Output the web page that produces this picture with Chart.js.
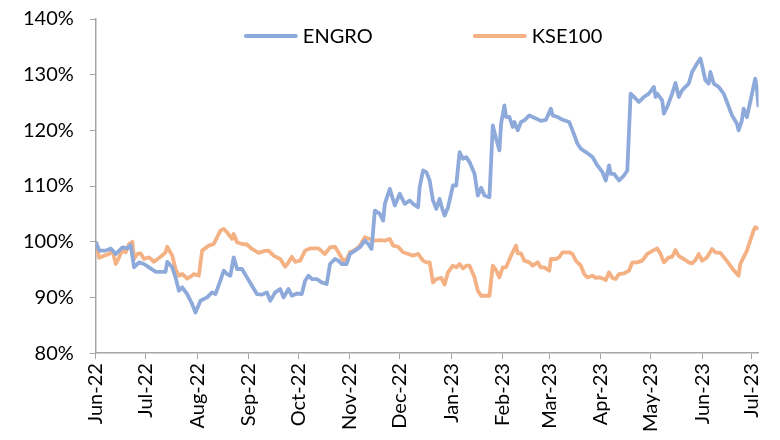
<!DOCTYPE html>
<html>
<head>
<meta charset="utf-8">
<script src="https://cdn.jsdelivr.net/npm/chart.js@4.4.0/dist/chart.umd.min.js"></script>
<style>
  html, body { margin: 0; padding: 0; background: #fff; }
  #wrap { width: 780px; height: 440px; }
</style>
</head>
<body>
<div id="wrap"><canvas id="chart"></canvas></div>
<script>
// x values are days counted from 1-Jun-22
const monthDays = [0, 30, 61, 92, 122, 153, 183, 214, 245, 273, 304, 334, 365, 395];
const monthLabels = ["Jun-22", "Jul-22", "Aug-22", "Sep-22", "Oct-22", "Nov-22", "Dec-22",
                     "Jan-23", "Feb-23", "Mar-23", "Apr-23", "May-23", "Jun-23", "Jul-23"];
const seriesNames = ["ENGRO", "KSE100"];

const engroDays = [0,2,6,9,12,16,19,21,23,26,29,32,36,42,43,46,48,50,52,55,58,60,63,67,70,72,75,77,79,81,
  83,85,88,91,94,97,100,103,105,108,111,113,116,118,121,124,126,128,130,133,136,139,141,144,146,148,151,
  153,156,159,162,164,166,168,171,173,174,177,180,183,186,189,191,194,195,197,199,201,203,205,207,208,210,
  212,215,217,219,221,223,225,228,230,232,234,237,239,241,243,244,246,247,249,251,252,254,256,258,261,263,
  268,271,274,275,278,281,285,287,290,292,295,299,302,305,307,309,310,312,315,318,320,322,324,327,330,333,
  336,337,338,341,342,344,347,349,351,353,355,357,359,362,364,365,367,369,370,372,375,378,380,383,386,387,
  389,390,392,394,397,398,399];
const engroValues = [100,98.4,98.4,98.8,97.8,99.0,98.8,99.4,95.4,96.3,96.0,95.4,94.6,94.6,96.4,95.4,93.6,
  91.2,91.8,90.6,88.8,87.3,89.4,90.0,90.9,90.6,93.0,94.8,94.2,93.9,97.2,95.1,95.1,93.6,92.1,90.6,90.5,90.9,
  89.4,90.9,91.5,90.0,91.5,90.3,90.7,90.6,93.0,93.9,93.3,93.3,92.7,92.4,96.0,96.9,96.6,96.0,96.0,97.8,98.4,
  99.0,100.2,99.6,98.7,105.6,105.0,103.8,106.8,109.5,106.5,108.6,106.8,107.4,106.8,106.2,109.8,112.8,112.5,
  111.0,107.4,105.9,107.7,106.5,104.7,106.1,110.1,110.1,116.1,114.9,115.2,114.3,112.2,108.3,109.7,108.3,
  108.0,120.9,118.5,116.4,121.2,124.5,122.4,122.4,120.6,121.5,120.0,121.5,121.8,122.7,122.4,121.7,121.9,
  123.9,122.7,122.4,121.9,121.5,120.0,117.6,116.7,116.1,115.2,113.7,112.5,111.0,113.7,112.2,112.2,111.0,
  111.9,112.8,126.6,126.0,125.1,126.0,126.6,127.8,126.0,126.6,125.4,123.0,124.2,126.6,128.5,126.0,127.2,
  127.8,128.4,130.5,132.0,132.9,131.7,129.0,128.4,130.5,128.4,127.8,126.6,125.1,122.7,121.2,120.0,121.8,
  123.9,122.4,125.1,129.3,127.5,124.2];

const kseDays = [0,2,5,8,10,12,14,16,18,20,22,23,25,27,29,32,35,39,42,43,46,48,50,52,55,58,59,62,64,68,71,
  73,75,77,79,82,83,85,88,91,94,98,101,104,107,111,114,116,118,120,123,126,129,134,138,141,144,146,149,151,
  153,156,159,162,165,168,171,174,177,179,182,185,188,191,194,197,199,201,203,205,208,210,212,215,217,219,
  221,223,225,228,230,232,234,237,239,241,243,245,247,250,253,254,256,258,261,263,266,268,270,273,274,277,
  279,281,285,287,289,292,294,296,299,301,303,306,307,309,311,313,315,318,321,323,326,329,332,336,338,340,
  342,345,347,349,351,354,357,359,361,363,365,368,371,373,376,379,382,384,387,388,390,392,394,396,397,399];
const kseValues = [100.0,97.1,97.5,97.8,98.4,96.0,97.2,98.5,98.1,99.6,100.0,96.9,97.8,97.9,96.9,97.2,96.4,
  97.3,98.1,99.1,97.5,95.1,93.9,94.2,93.4,93.9,94.2,93.9,98.4,99.3,99.6,100.8,102.0,102.3,101.7,100.5,101.4,
  99.9,99.6,99.5,98.7,98.0,98.3,98.4,97.5,96.9,95.5,96.3,97.3,96.4,96.6,98.4,98.8,98.8,97.8,99.0,99.1,98.1,
  96.6,96.9,98.1,98.5,99.3,100.8,100.5,100.2,100.3,100.2,100.5,99.3,99.1,98.1,97.8,97.5,97.8,96.6,96.3,96.3,
  92.7,93.3,93.5,92.3,94.5,95.7,95.4,96.0,95.2,95.7,95.7,93.6,91.2,90.3,90.3,90.3,95.7,94.9,93.6,95.4,95.4,
  97.5,99.3,97.9,97.9,96.6,96.3,95.7,96.3,95.4,95.4,94.8,96.9,96.9,97.2,98.1,98.1,97.8,96.6,95.7,94.2,93.6,
  93.9,93.5,93.6,93.3,93.1,94.5,93.5,93.3,94.2,94.3,94.8,96.3,96.3,96.6,97.8,98.5,98.8,97.8,96.3,97.2,97.3,
  98.5,97.4,96.9,96.3,96.1,96.7,97.8,96.6,97.2,98.7,98.1,98.0,96.9,95.7,94.9,93.9,96.0,97.2,98.4,100.2,102.0,
  102.6,102.3];

const blue = "#8eaadb";
const orange = "#f4b183";
const axisGrey = "#a6a6a6";
const font = { family: "Lato", size: 20 };

// legend drawn inside the plot, just under the top edge
const insideLegend = {
  id: "insideLegend",
  afterDraw(chart) {
    const { ctx, chartArea } = chart;
    const y = chartArea.top + 17;
    const starts = [chartArea.left + 150, chartArea.left + 379];
    ctx.save();
    ctx.font = font.size + "px " + font.family;
    ctx.textBaseline = "middle";
    chart.data.datasets.forEach((ds, i) => {
      const x = starts[i];
      ctx.strokeStyle = ds.borderColor;
      ctx.lineWidth = 4;
      ctx.lineCap = "round";
      ctx.beginPath();
      ctx.moveTo(x, y);
      ctx.lineTo(x + 50, y);
      ctx.stroke();
      ctx.fillStyle = "#000";
      ctx.fillText(ds.label, x + 57, y + 1);
    });
    ctx.restore();
  }
};

new Chart(document.getElementById("chart"), {
  type: "line",
  data: {
    datasets: [{
      label: seriesNames[0],
      data: engroDays.map((d, i) => ({ x: d, y: engroValues[i] })),
      borderColor: blue,
      backgroundColor: blue,
      borderWidth: 3.8,
      pointRadius: 0,
      tension: 0,
      borderJoinStyle: "round",
    }, {
      label: seriesNames[1],
      data: kseDays.map((d, i) => ({ x: d, y: kseValues[i] })),
      borderColor: orange,
      backgroundColor: orange,
      borderWidth: 3.8,
      pointRadius: 0,
      tension: 0,
      borderJoinStyle: "round",
    }],
  },
  options: {
    responsive: true,
    maintainAspectRatio: false,
    animation: false,
    layout: { padding: { top: 19, left: 7, right: 11, bottom: 4 } },
    scales: {
      x: {
        type: "linear",
        min: 0,
        max: 399,
        afterBuildTicks: (scale) => {
          scale.ticks = monthDays.map(v => ({ value: v }));
        },
        ticks: {
          autoSkip: false,
          minRotation: 90,
          maxRotation: 90,
          padding: 4,
          color: "#000",
          font: font,
          callback: (value) => monthLabels[monthDays.indexOf(value)],
        },
        grid: { drawOnChartArea: false, drawTicks: true, tickLength: 6, color: axisGrey },
        border: { display: true, color: axisGrey, width: 1.5 },
      },
      y: {
        min: 80,
        max: 140,
        // keep the label padding from pushing the plot top down
        afterFit: (scale) => {
          scale.paddingTop = 0;
          scale.paddingBottom = 0;
        },
        ticks: {
          stepSize: 10,
          padding: 16,
          color: "#000",
          font: font,
          callback: (value) => value + "%",
        },
        grid: { drawOnChartArea: false, drawTicks: true, tickLength: 6, color: axisGrey },
        border: { display: true, color: axisGrey, width: 1.5 },
      },
    },
    plugins: {
      legend: { display: false },
      tooltip: { enabled: false },
    },
  },
  plugins: [insideLegend],
});
</script>
</body>
</html>
